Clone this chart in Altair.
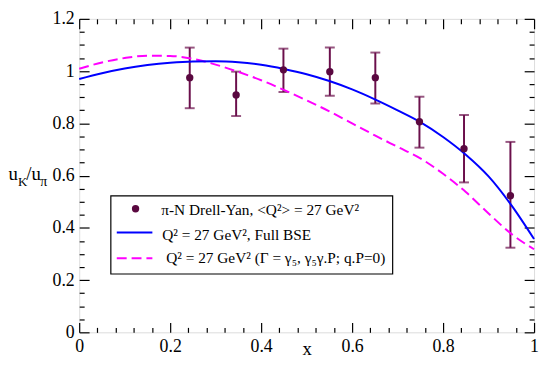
import altair as alt
import pandas as pd

# ---- data ----
pt_x = [0.243, 0.345, 0.449, 0.551, 0.651, 0.748, 0.846, 0.948]
pt_y = [0.975, 0.909, 1.005, 0.998, 0.975, 0.806, 0.703, 0.523]
pt_lo = [0.858, 0.828, 0.920, 0.906, 0.876, 0.707, 0.574, 0.324]
pt_hi = [1.090, 0.998, 1.086, 1.090, 1.071, 0.902, 0.832, 0.729]

curve_x = [0, 0.05, 0.1, 0.15, 0.2, 0.25, 0.3, 0.35, 0.4, 0.45, 0.5,
           0.55, 0.6, 0.65, 0.7, 0.75, 0.8, 0.85, 0.9, 0.95, 1.0]
bse_y = [0.970, 0.992, 1.010, 1.023, 1.032, 1.037, 1.038, 1.034, 1.024, 1.008, 0.988,
         0.962, 0.930, 0.892, 0.850, 0.805, 0.748, 0.680, 0.597, 0.487, 0.357]
simp_y = [1.009, 1.033, 1.050, 1.059, 1.058, 1.047, 1.025, 0.997, 0.965, 0.928, 0.888,
          0.846, 0.800, 0.754, 0.710, 0.666, 0.607, 0.537, 0.455, 0.377, 0.318]

x_major = [0, 0.2, 0.4, 0.6, 0.8, 1.0]
x_minor = [round(i * 0.04, 2) for i in range(26) if i % 5 != 0]
y_major = [0, 0.2, 0.4, 0.6, 0.8, 1.0, 1.2]
y_minor = [round(i * 0.05, 2) for i in range(25) if i % 4 != 0]

leg_labels = [
    "π-N Drell-Yan, <Q²> = 27 GeV²",
    "Q² = 27 GeV², Full BSE",
    "Q² = 27 GeV² (Γ = γ₅, γ₅γ.P;  q.P=0)",
]

pts = pd.DataFrame({"x": pt_x, "y": pt_y, "lo": pt_lo, "hi": pt_hi})
bse = pd.DataFrame({"x": curve_x, "y": bse_y})
simp = pd.DataFrame({"x": curve_x, "y": simp_y})
one = pd.DataFrame({"a": [0]})

FONT = "Liberation Serif"
DATA_C = "#6b0f4b"
PT_C = "#5a0840"

xs = alt.Scale(domain=[0, 1], nice=False, zero=False)
ys = alt.Scale(domain=[0, 1.2], nice=False, zero=False)


def ax(orient, values, size, labels=False, title=None, **kw):
    args = dict(orient=orient, values=values, tickSize=size, offset=-size,
                domain=False, grid=False, labels=labels, tickColor="black",
                tickWidth=1.2)
    if labels:
        args.update(labelFont=FONT, labelFontSize=18, labelColor="black",
                    labelPadding=5, format="~g")
    if title is not None:
        args.update(title=title, titleFont=FONT, titleFontSize=19,
                    titleFontWeight="normal", titleColor="black")
    else:
        args.update(title=None)
    args.update(kw)
    return alt.Axis(**args)


ax_b_major = ax("bottom", x_major, 10, labels=True, title="x",
                titleY=32, titleBaseline="alphabetic", labelFlush=False)
ax_b_minor = ax("bottom", x_minor, 5)
ax_t_major = ax("top", x_major, 10)
ax_t_minor = ax("top", x_minor, 5)
ax_l_major = ax("left", y_major, 10, labels=True, labelFlush=False)
ax_l_minor = ax("left", y_minor, 5)
ax_r_major = ax("right", y_major, 10)
ax_r_minor = ax("right", y_minor, 5)

bars = alt.Chart(pts).mark_rule(color=DATA_C, strokeWidth=2).encode(
    x=alt.X("x:Q", scale=xs, axis=ax_b_major),
    y=alt.Y("lo:Q", scale=ys, axis=ax_l_major),
    y2="hi:Q",
)
cap_lo = alt.Chart(pts).mark_tick(color=DATA_C, orient="horizontal", size=10, thickness=2).encode(
    x=alt.X("x:Q", scale=xs, axis=ax_b_minor),
    y=alt.Y("lo:Q", scale=ys, axis=ax_l_minor),
)
cap_hi = alt.Chart(pts).mark_tick(color=DATA_C, orient="horizontal", size=10, thickness=2).encode(
    x=alt.X("x:Q", scale=xs, axis=ax_t_major),
    y=alt.Y("hi:Q", scale=ys, axis=ax_r_major),
)
dots = alt.Chart(pts).mark_circle(color=PT_C, opacity=1, size=55).encode(
    x=alt.X("x:Q", scale=xs, axis=ax_t_minor),
    y=alt.Y("y:Q", scale=ys, axis=ax_r_minor),
)
line_bse = alt.Chart(bse).mark_line(color="#0000ff", strokeWidth=2, interpolate="monotone").encode(
    x=alt.X("x:Q", scale=xs, axis=None),
    y=alt.Y("y:Q", scale=ys, axis=None),
)
line_simp = alt.Chart(simp).mark_line(color="#ff00ff", strokeWidth=2, strokeDash=[10, 5],
                                      interpolate="monotone").encode(
    x=alt.X("x:Q", scale=xs, axis=None),
    y=alt.Y("y:Q", scale=ys, axis=None),
)

# ---- legend box ----
leg_box = alt.Chart(one).mark_rect(fill="white", stroke="black", strokeWidth=1.2).encode(
    x=alt.value(32), x2=alt.value(317), y=alt.value(179), y2=alt.value(258)
)
leg_dot = alt.Chart(one).mark_circle(color=PT_C, opacity=1, size=55).encode(
    x=alt.value(57), y=alt.value(192)
)
leg_blue = alt.Chart(one).mark_rule(color="#0000ff", strokeWidth=2).encode(
    x=alt.value(38), x2=alt.value(74), y=alt.value(216)
)
leg_mag = alt.Chart(one).mark_rule(color="#ff00ff", strokeWidth=2, strokeDash=[10, 5]).encode(
    x=alt.value(38), x2=alt.value(74), y=alt.value(242)
)


def txt(s, x, y, size=15.5):
    return alt.Chart(one).mark_text(font=FONT, fontSize=size, align="left",
                                    baseline="alphabetic", color="black").encode(
        x=alt.value(x), y=alt.value(y), text=alt.value(s))


leg_t1 = txt(leg_labels[0], 83, 198)
leg_t2 = txt(leg_labels[1], 84, 224)
leg_t3 = txt(leg_labels[2], 88, 247)

# ---- y title u_K / u_pi ----
yt1 = txt("u", -71.5, 163, 19)
yt2 = txt("K", -62, 169, 13)
yt3 = txt("/u", -53.5, 163, 19)
yt4 = txt("π", -39.5, 169, 14)

chart = alt.layer(
    bars, cap_lo, cap_hi, line_simp, line_bse, dots,
    leg_box, leg_dot, leg_blue, leg_mag, leg_t1, leg_t2, leg_t3,
    yt1, yt2, yt3, yt4,
).resolve_axis(x="independent", y="independent").properties(
    width=460, height=317,
    autosize=alt.AutoSizeParams(type="none"),
    padding={"left": 72, "top": 9, "right": 6, "bottom": 27},
).configure_view(stroke="black", strokeWidth=1.2).configure(background="white")

chart.save("out.html", embed_options={"renderer": "svg", "actions": False})
